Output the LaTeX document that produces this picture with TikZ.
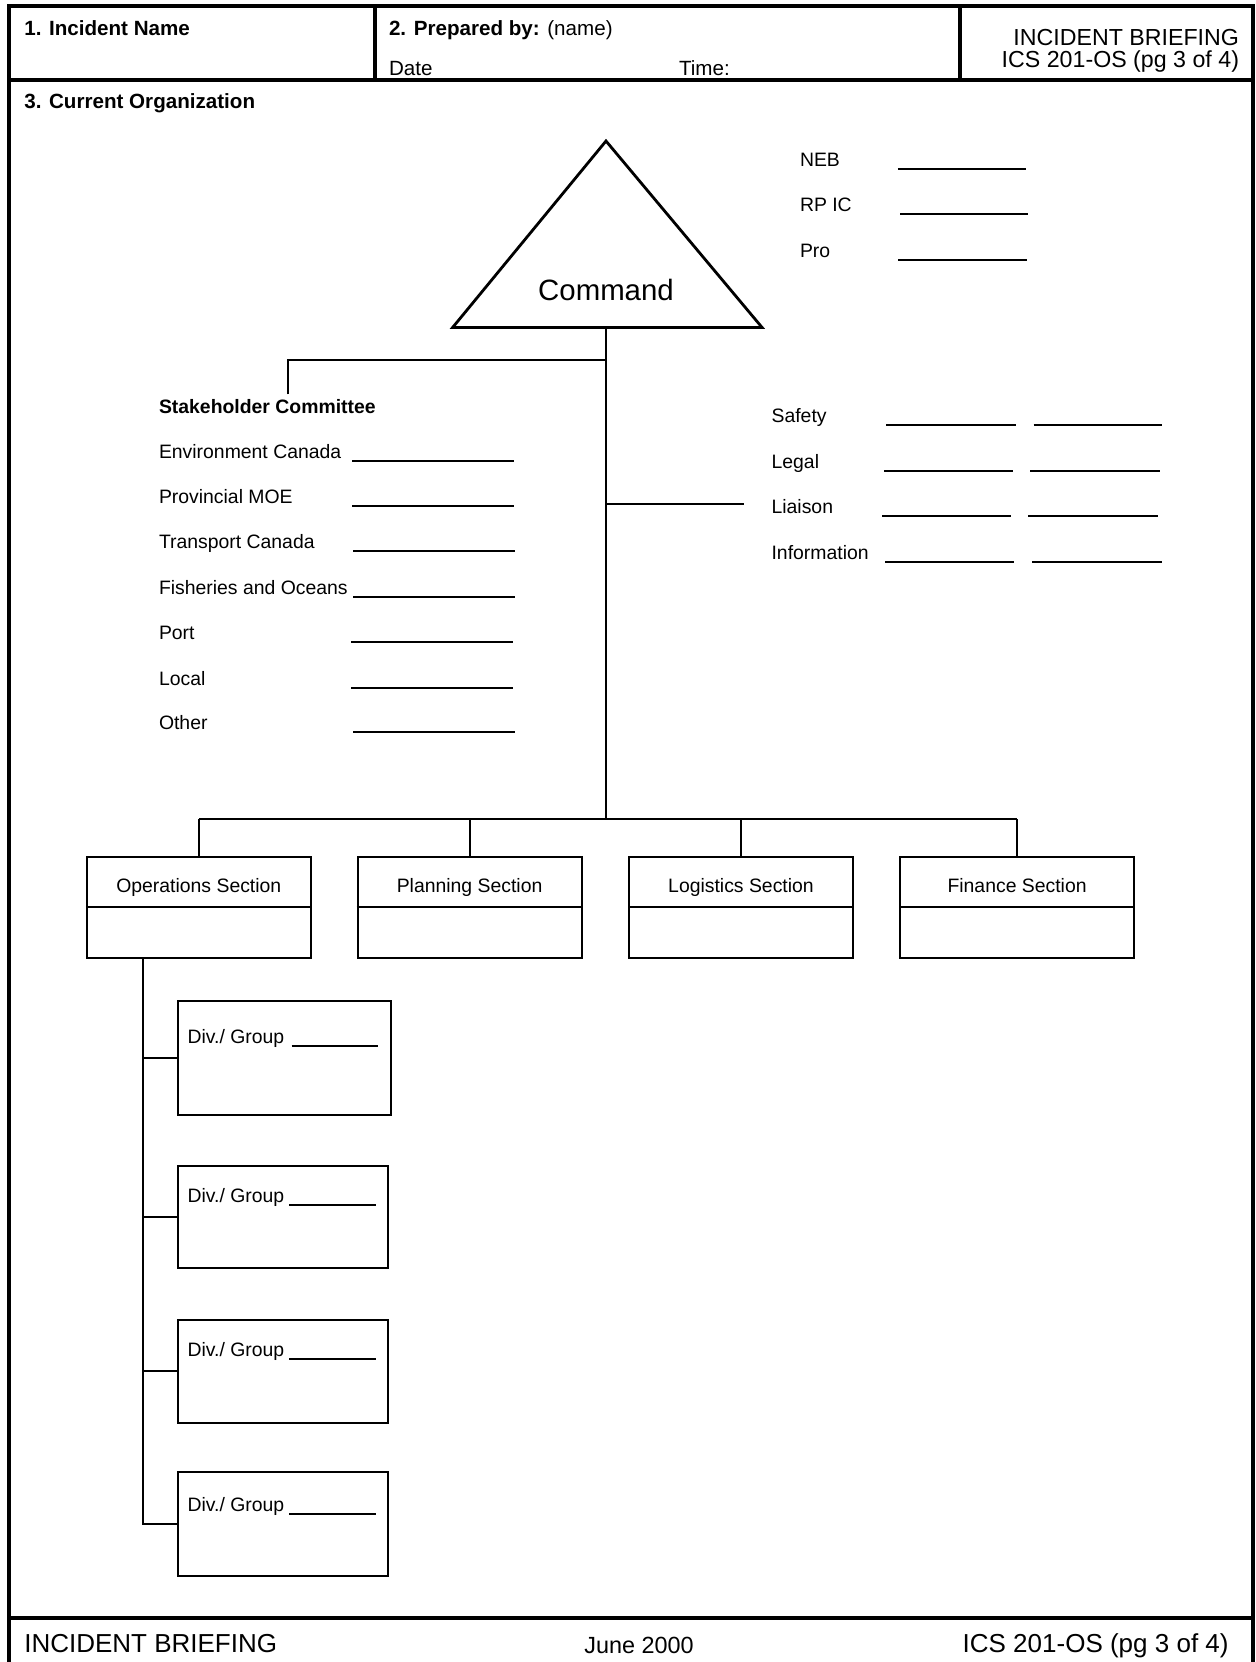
\documentclass[tikz,border=0pt]{standalone}
\usepackage{fontspec}
\setmainfont{Liberation Sans}
\usetikzlibrary{positioning}

\tikzset{
  lbl/.style={anchor=base west, inner sep=0pt, font=\fontsize{9.7}{11.6}\selectfont},
  hdr/.style={anchor=base west, inner sep=0pt, font=\fontsize{10.3}{12.4}\selectfont},
  ttl/.style={anchor=base east, inner sep=0pt, font=\fontsize{11.6}{14}\selectfont},
  ftr/.style={anchor=base west, inner sep=0pt, font=\fontsize{13}{15.6}\selectfont},
  secbox/.style={draw, minimum width=112pt, minimum height=50.85pt, inner sep=0pt},
  divbox/.style={draw, minimum width=105pt, inner sep=0pt},
  rule/.style={line width=2pt},
}

\begin{document}
\begin{tikzpicture}[x=0.5pt, y=-0.5pt, line width=1pt]
    \useasboundingbox (0,0) rectangle (1255,1662);
    \draw[rule] (8.5,1662)--(8.5,6.4)--(1253,6.4)--(1253,1662);
    \draw[rule]
      (8.5,79.5)--(1253,79.5) (375,6.4)--(375,79.5) (960,6.4)--(960,79.5)
      (8.5,1617.5)--(1253,1617.5)
    ;
    \node[hdr, font=\fontsize{10.3}{12.4}\selectfont\bfseries] (incname) at (23.3,35) {1. Incident Name};
    \node[hdr] (prepby) at (388,35) {\textbf{2. Prepared by:} (name)};
    \node[hdr] (date) at (388,75.3) {Date};
    \node[hdr] (time) at (678,75.3) {Time:};
    \node[ttl] (title) at (1240,45.3) {INCIDENT BRIEFING};
    \node[ttl] (formno) at (1240,67.7) {ICS 201-OS (pg 3 of 4)};
    \node[hdr, font=\fontsize{10.3}{12.4}\selectfont\bfseries] (curorg) at (23.3,108.2) {3. Current Organization};

    \coordinate (apex) at (606,141);
    \coordinate (cmd) at (606,327.5);
    \draw[line width=1.4pt, line join=miter] (apex)--(452.6,327.5)--(762.1,327.5)--cycle;
    \node[anchor=base, inner sep=0pt, font=\fontsize{14.7}{17.6}\selectfont] (command) at (606,300) {Command};

    \foreach \t/\y/\a/\b [count=\i] in {NEB/166/897.8/1026, RP IC/211.6/900/1028, Pro/257/898/1027} {
      \node[lbl] (agency\i) at (799,\y) {\t};
      \draw (\a,\y+2.5)--(\b,\y+2.5);
    }

    \coordinate (secbar) at (606,819.4);
    \coordinate (stakejoin) at (606,360.4);
    \coordinate (stakeend) at (288.3,394.3);
    \coordinate (staffjoin) at (606,503.5);
    \coordinate (staffend) at (744,503.5);
    \draw (cmd)--(secbar);
    \draw (stakeend)|-(stakejoin);
    \draw (staffjoin)--(staffend);

    \node[lbl, font=\fontsize{9.7}{11.6}\selectfont\bfseries] (stake) at (158,413) {Stakeholder Committee};
    \foreach \t/\y/\a/\b [count=\i] in {
        Environment Canada/458.5/352/514, Provincial MOE/503/352/514,
        Transport Canada/548.6/353/515, Fisheries and Oceans/594.2/353/515,
        Port/639.8/351/513, Local/685.4/351/513, Other/729.9/353/515} {
      \node[lbl] (member\i) at (158,\y) {\t};
      \draw (\a,\y+2.5)--(\b,\y+2.5);
    }

    \foreach \t/\y/\a/\b/\c/\d [count=\i] in {
        Safety/422.5/886/1015.5/1033.5/1161.7, Legal/468/884/1013.3/1030/1159.6,
        Liaison/513.7/882/1011/1028/1157.5, Information/559.2/885/1014/1032/1161.7} {
      \node[lbl] (staff\i) at (770.6,\y) {\t};
      \draw (\a,\y+2.5)--(\b,\y+2.5) (\c,\y+2.5)--(\d,\y+2.5);
    }

    \node[secbox] (ops) at (198.8,907.35) {};
    \node[secbox] (plan) at (469.6,907.35) {};
    \node[secbox] (log) at (741,907.35) {};
    \node[secbox, minimum width=117pt] (fin) at (1017.1,907.35) {};
    \draw (ops.north |- secbar)--(fin.north |- secbar);
    \foreach \s/\t in {ops/Operations, plan/Planning, log/Logistics, fin/Finance} {
      \draw (\s.north |- secbar)--(\s.north);
      \draw (\s.west)--(\s.east);
      \node[lbl, anchor=base] (\s lbl) at ([yshift=-18.35pt]\s.north) {\t\ Section};
    }

    \node[divbox, minimum width=106.5pt, minimum height=57.2pt] (div1) at (284.5,1057.8) {};
    \node[divbox, minimum height=50.85pt] (div2) at (283,1216.9) {};
    \node[divbox, minimum height=51.4pt] (div3) at (283,1371.1) {};
    \node[divbox, minimum height=51.95pt] (div4) at (283,1524.3) {};
    \coordinate (opsfoot) at (143.1,958.2);
    \draw (opsfoot)|-(div4.west);
    \foreach \i/\y/\a/\b in {1/1043.7/291.5/378.4, 2/1202.6/289/376, 3/1356.3/289/376, 4/1511.1/289/376} {
      \draw (opsfoot |- div\i.west)--(div\i.west);
      \node[lbl] (div\i lbl) at (186.6,\y) {Div./ Group};
      \draw (\a,\y+2.5)--(\b,\y+2.5);
    }

    \node[ftr] (ftitle) at (23.3,1652.4) {INCIDENT BRIEFING};
    \node[ftr, anchor=base, font=\fontsize{11.7}{14}\selectfont] (fdate) at (639,1653.4) {June 2000};
    \node[ftr, anchor=base east] (fformno) at (1229.6,1652.4) {ICS 201-OS (pg 3 of 4)};
  \end{tikzpicture}
\end{document}
